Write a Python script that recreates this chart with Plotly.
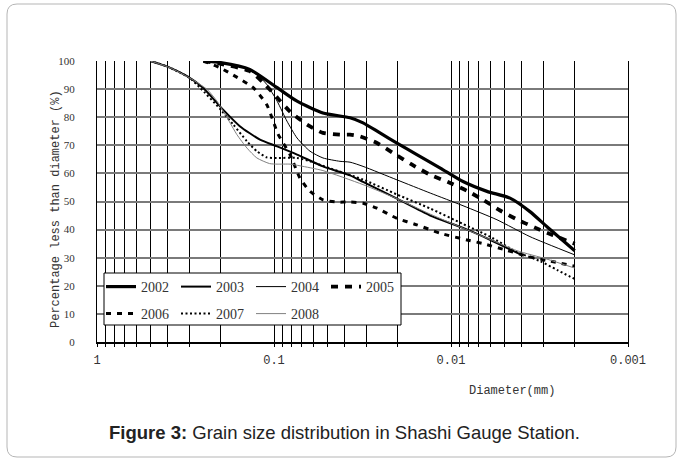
import plotly.graph_objects as go

# ---- data (diameter in mm, percentage finer) ----
years = ["2002", "2003", "2004", "2005", "2006", "2007", "2008"]

d2002 = [0.25, 0.2, 0.137, 0.096, 0.0741, 0.0529, 0.0372, 0.0314, 0.0252, 0.0202, 0.0156, 0.0115, 0.00855, 0.00626, 0.00464, 0.00358, 0.00287, 0.002]
v2002 = [100, 99.4, 97, 90.5, 85.7, 81.5, 79.8, 78, 74.4, 70.8, 66.7, 61.9, 57.1, 53.6, 51.2, 46.4, 41, 32.5]

d2003 = [0.5, 0.4, 0.31, 0.252, 0.194, 0.156, 0.12, 0.096, 0.0741, 0.0529, 0.0372, 0.0314, 0.0202, 0.0131, 0.00855, 0.00602, 0.004]
v2003 = [100, 98, 94.6, 90.5, 82.7, 76.8, 72, 69.6, 66.7, 62.5, 59.3, 57, 51, 45, 40.6, 36.4, 31]

d2004 = [0.25, 0.156, 0.125, 0.11, 0.096, 0.0845, 0.0741, 0.0626, 0.0529, 0.0424, 0.0372, 0.0314, 0.0202, 0.0131, 0.00855, 0.0055, 0.00358, 0.002]
v2004 = [100, 98.2, 95.2, 91.7, 85.7, 78.6, 72.6, 67.9, 65.5, 64.3, 64, 62.5, 57.7, 53, 48.5, 43.5, 37.5, 31]

d2005 = [0.25, 0.2, 0.137, 0.115, 0.096, 0.0812, 0.0651, 0.0529, 0.0424, 0.0372, 0.0327, 0.0262, 0.0213, 0.0166, 0.0131, 0.0104, 0.00812, 0.00659, 0.00528, 0.00424, 0.00335, 0.00265, 0.002]
v2005 = [100, 99, 96.4, 92.3, 87, 82, 77.4, 74.4, 73.8, 73.8, 73.2, 70.8, 67.3, 63.1, 59.5, 56.9, 53.8, 50.6, 46.8, 43.6, 40.7, 38, 35]

d2006 = [0.25, 0.202, 0.17, 0.131, 0.11, 0.101, 0.095, 0.0812, 0.0713, 0.0626, 0.0529, 0.0441, 0.0372, 0.0314, 0.0262, 0.0202, 0.0156, 0.0115, 0.00812, 0.00659, 0.00483, 0.00358, 0.00287, 0.002]
v2006 = [100, 97.6, 95, 90.5, 84.5, 78.6, 74, 66.7, 58.3, 53.6, 50.6, 49.8, 49.8, 49.4, 47.6, 44, 41.7, 38.7, 36.3, 35, 32.6, 30.3, 29, 27]

d2007 = [0.5, 0.4, 0.3, 0.262, 0.202, 0.17, 0.142, 0.125, 0.11, 0.096, 0.0741, 0.0626, 0.0483, 0.0314, 0.0202, 0.0131, 0.00855, 0.00602, 0.00424, 0.00314, 0.00251, 0.002]
v2007 = [100, 98, 94, 90.5, 83, 77.4, 71.4, 67.9, 65.7, 65.5, 65.5, 64.3, 61.8, 57.8, 52.5, 47.5, 42, 37.5, 32, 28.8, 25.6, 22.4]

d2008 = [0.5, 0.387, 0.3, 0.239, 0.21, 0.184, 0.162, 0.142, 0.125, 0.106, 0.096, 0.0812, 0.0713, 0.0529, 0.0314, 0.0202, 0.0131, 0.00855, 0.00602, 0.00424, 0.00287, 0.002]
v2008 = [100, 97.6, 94, 89.9, 85.7, 79.8, 73.8, 69, 65.5, 63.5, 63.3, 63.3, 62.7, 61, 56, 51, 45.5, 40.5, 36.5, 32.5, 29.5, 26.3]

x_tick_vals = [1, 0.1, 0.01, 0.001]
x_tick_text = ["1", "0.1", "0.01", "0.001"]
x_minor_vals = [0.9, 0.8, 0.7, 0.6, 0.5, 0.4, 0.3, 0.2,
                0.09, 0.08, 0.07, 0.06, 0.05, 0.04, 0.03, 0.02,
                0.009, 0.008, 0.007, 0.006, 0.005, 0.004, 0.003, 0.002]
y_tick_vals = [0, 10, 20, 30, 40, 50, 60, 70, 80, 90, 100]

series = [
    (years[0], d2002, v2002, dict(color="black", width=3.2, dash="solid"), "legend"),
    (years[1], d2003, v2003, dict(color="black", width=2, dash="solid"), "legend"),
    (years[2], d2004, v2004, dict(color="black", width=1, dash="solid"), "legend"),
    (years[3], d2005, v2005, dict(color="black", width=3.8, dash="7px,7px"), "legend"),
    (years[4], d2006, v2006, dict(color="black", width=3, dash="5px,6px"), "legend2"),
    (years[5], d2007, v2007, dict(color="black", width=2, dash="2px,2.5px"), "legend2"),
    (years[6], d2008, v2008, dict(color="#808080", width=1, dash="solid"), "legend2"),
]

fig = go.Figure()
for name, xs, ys, line, lg in series:
    fig.add_trace(go.Scatter(x=xs, y=ys, mode="lines", name=name, line=line,
                             legend=lg, line_shape="spline", line_smoothing=0.6))

W, H = 680, 458
L, R, T, B = 97, 628, 61, 342
pw, ph = R - L, B - T

def px(xp):
    return (xp - L) / pw

def py(yp):
    return (B - yp) / ph

fig.update_xaxes(
    type="log", range=[0, -3],
    tickvals=x_tick_vals, ticktext=x_tick_text,
    showgrid=True, gridcolor="black", gridwidth=1,
    minor=dict(tickvals=x_minor_vals, showgrid=True, gridcolor="black", gridwidth=1,
               ticks="outside", ticklen=3, tickcolor="black"),
    ticks="outside", ticklen=3, tickcolor="black",
    showline=True, linecolor="black", linewidth=1.5,
    zeroline=False, ticklabelstandoff=3,
    tickfont=dict(family="Liberation Mono", size=12, color="#333"),
)
fig.update_yaxes(
    range=[0, 100], tickvals=y_tick_vals,
    showgrid=True, gridcolor="#7a7a7a", gridwidth=1.5,
    showline=True, linecolor="black", linewidth=1.2, mirror=True,
    zeroline=False, ticks="", ticklabelstandoff=19,
    tickfont=dict(family="Liberation Serif", size=11, color="#333"),
)

# card border (rounded rectangle) and legend box
cx0, cx1, cy0, cy1 = px(7), px(676), py(4), py(457)
rx, ry = 10 / pw, 10 / ph
card = (f"M {cx0+rx},{cy0} L {cx1-rx},{cy0} Q {cx1},{cy0} {cx1},{cy0-ry} "
        f"L {cx1},{cy1+ry} Q {cx1},{cy1} {cx1-rx},{cy1} L {cx0+rx},{cy1} "
        f"Q {cx0},{cy1} {cx0},{cy1+ry} L {cx0},{cy0-ry} Q {cx0},{cy0} {cx0+rx},{cy0} Z")

shapes = [
    dict(type="path", path=card, xref="paper", yref="paper",
         line=dict(color="#b5b5b5", width=1), layer="below"),
    dict(type="rect", xref="paper", yref="paper", x0=px(104), x1=px(401), y0=py(325), y1=py(273),
         fillcolor="white", line=dict(color="black", width=1), layer="above"),
]

legend_common = dict(orientation="h", xanchor="left", yanchor="middle",
                     bgcolor="rgba(0,0,0,0)", borderwidth=0, entrywidth=30,
                     font=dict(family="Liberation Serif", size=14, color="#333"),
                     itemsizing="trace", traceorder="normal")

fig.update_layout(
    width=W, height=H,
    margin=dict(l=L, r=W - R, t=T, b=H - B),
    paper_bgcolor="white", plot_bgcolor="white",
    showlegend=True,
    legend=dict(x=px(101), y=py(287), **legend_common),
    legend2=dict(x=px(101), y=py(314), **legend_common),
    shapes=shapes,
    annotations=[
        dict(text="Percentage less than diameter (%)", xref="paper", yref="paper",
             x=px(56), y=py(209), xanchor="center", yanchor="middle",
             textangle=-90, showarrow=False,
             font=dict(family="Liberation Mono", size=12, color="#333")),
        dict(text="Diameter(mm)", xref="paper", yref="paper",
             x=px(512), y=py(391), xanchor="center", yanchor="middle", showarrow=False,
             font=dict(family="Liberation Mono", size=12, color="#333")),
        dict(text="<b>Figure 3:</b> Grain size distribution in Shashi Gauge Station.",
             xref="paper", yref="paper", x=px(344), y=py(432),
             xanchor="center", yanchor="middle", showarrow=False,
             font=dict(family="Liberation Sans", size=18.5, color="#222")),
    ],
)

fig.write_html("out.html", config={"displayModeBar": False},
               post_script="document.body.style.margin='0';document.body.style.overflow='hidden';")
